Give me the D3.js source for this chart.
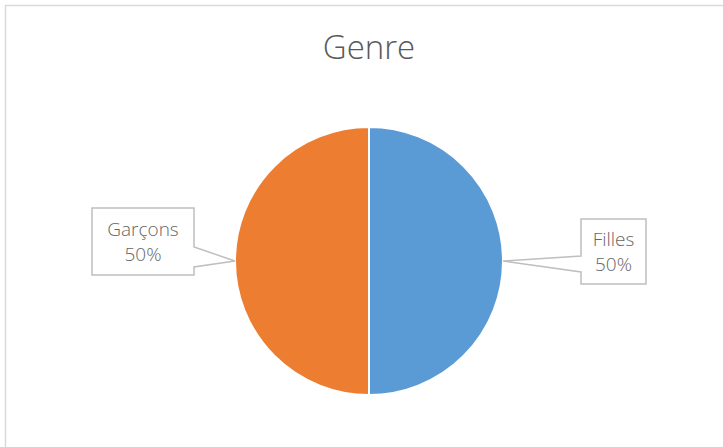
<!DOCTYPE html>
<html lang="fr">
<head>
<meta charset="UTF-8">
<title>Genre</title>
<script src="https://d3js.org/d3.v7.min.js"></script>
<style>
    body { margin: 0; background: #fff; }
    svg { display: block; font-family: "Open Sans", sans-serif; }
</style>
</head>
<body>
<div id="chart"></div>
<script>
    // Data
    const categories = ["Filles", "Garçons"];
    const values = [50, 50];
    const colors = ["#5B9BD5", "#ED7D31"];

    const width = 723, height = 447;
    const cx = 369, cy = 261, radius = 134;

    // label box layout (offsets from the slice edge point)
    const boxes = [
        {dx: 78, dy: -42, w: 65, h: 65, side: "left", wTop: -5, wBot: 11},
        {dx: -143, dy: -53, w: 102, h: 67, side: "right", wTop: -14, wBot: 6}
    ];

    const svg = d3.select("#chart").append("svg")
        .attr("width", width)
        .attr("height", height);

    // chart frame
    svg.append("rect")
        .attr("x", 5.5).attr("y", 5.5)
        .attr("width", width + 20).attr("height", height + 20)
        .attr("fill", "#fff")
        .attr("stroke", "#D9D9D9")
        .attr("stroke-width", 1.5);

    svg.append("text")
        .attr("x", cx)
        .attr("y", 59)
        .attr("text-anchor", "middle")
        .attr("font-size", 33)
        .attr("font-weight", 300)
        .attr("fill", "#595959")
        .text("Genre");

    const pie = d3.pie().sort(null).value(d => d);
    const arcs = pie(values);
    const arc = d3.arc().innerRadius(0).outerRadius(radius);

    const g = svg.append("g").attr("transform", `translate(${cx},${cy})`);

    g.selectAll("path.slice")
        .data(arcs)
        .join("path")
        .attr("class", "slice")
        .attr("d", arc)
        .attr("fill", (d, i) => colors[i])
        .attr("stroke", "#fff")
        .attr("stroke-width", 2);

    // callout labels
    const total = d3.sum(values);
    arcs.forEach((d, i) => {
        const mid = (d.startAngle + d.endAngle) / 2;
        const tx = Math.sin(mid) * radius, ty = -Math.cos(mid) * radius;
        const b = boxes[i];
        const x0 = tx + b.dx, y0 = ty + b.dy, x1 = x0 + b.w, y1 = y0 + b.h;
        let p;
        if (b.side === "left") {
            p = `M${x0},${y0}H${x1}V${y1}H${x0}V${ty + b.wBot}L${tx},${ty}L${x0},${ty + b.wTop}Z`;
        } else {
            p = `M${x0},${y0}H${x1}V${ty + b.wTop}L${tx},${ty}L${x1},${ty + b.wBot}V${y1}H${x0}Z`;
        }
        g.append("path")
            .attr("d", p)
            .attr("fill", "#fff")
            .attr("stroke", "#BFBFBF")
            .attr("stroke-width", 1.5);
        const t = g.append("text")
            .attr("text-anchor", "middle")
            .attr("font-size", 19)
            .attr("font-weight", 300)
            .attr("fill", "#666666");
        t.append("tspan")
            .attr("x", (x0 + x1) / 2)
            .attr("y", (y0 + y1) / 2 - 6)
            .text(categories[i]);
        t.append("tspan")
            .attr("x", (x0 + x1) / 2)
            .attr("y", (y0 + y1) / 2 + 19)
            .text(Math.round(d.data / total * 100) + "%");
    });
</script>
</body>
</html>
